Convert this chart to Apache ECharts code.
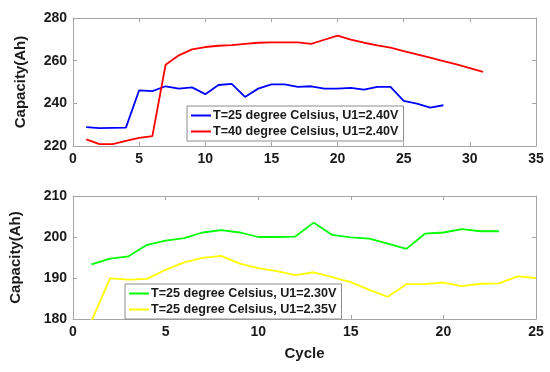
<!DOCTYPE html>
<html>
<head>
<meta charset="utf-8">
<script src="https://cdn.jsdelivr.net/npm/echarts@6/dist/echarts.min.js"></script>
<style>html,body{margin:0;padding:0;background:#fff;}#c{width:550px;height:372px;}</style>
</head>
<body>
<div id="c"></div>
<script>
// Top panel data (cycle 1..n)
const blue25_240 = [228.8,228.4,228.5,228.6,246.1,245.7,248.0,246.9,247.5,244.3,248.6,249.1,243.0,246.9,248.9,248.9,247.7,248.0,246.9,246.9,247.2,246.4,247.7,247.7,241.1,239.9,238.0,239.1];
const red40_240 = [223.1,220.9,220.9,222.4,223.8,224.6,258.1,262.5,265.3,266.4,267.0,267.3,267.9,268.4,268.6,268.6,268.6,267.9,269.8,271.7,269.9,268.4,267.2,266.1,264.5,262.9,261.4,259.8,258.3,256.5,254.7];
// Bottom panel data
const green25_230 = [193.3,194.7,195.3,198.1,199.1,199.7,201.1,201.7,201.1,200.0,200.0,200.1,203.5,200.5,199.9,199.6,198.4,197.1,200.8,201.1,201.9,201.4,201.4];
const yellow25_235 = [179.5,189.9,189.6,189.8,192.0,193.8,194.9,195.4,193.5,192.4,191.7,190.7,191.4,190.2,189.0,187.1,185.4,188.5,188.5,188.9,188.0,188.6,188.7,190.4,190.0];

const names = ['T=25 degree Celsius, U1=2.40V','T=40 degree Celsius, U1=2.40V','T=25 degree Celsius, U1=2.30V','T=25 degree Celsius, U1=2.35V'];
const topX = {min:0,max:35,interval:5};
const topY = {min:220,max:280,interval:20};
const botX = {min:0,max:25,interval:5};
const botY = {min:180,max:210,interval:10};

const toXY = arr => arr.map((v,i)=>[i+1,v]);
const FONT = '"Liberation Sans", Arial, sans-serif';
const axisCol = '#a6a6a6';

function xAx(gi, r, pos, labels, extra){
  return Object.assign({
    type:'value', gridIndex:gi, position:pos, min:r.min, max:r.max, interval:r.interval,
    axisLine:{show:true,onZero:false,lineStyle:{color:axisCol,width:1}},
    axisTick:{show:true,inside:true,length:4,lineStyle:{color:axisCol}},
    splitLine:{show:false},
    axisLabel:{show:labels,color:'#1a1a1a',fontFamily:FONT,fontWeight:'bold',fontSize:14,margin:6}
  }, extra||{});
}
function yAx(gi, r, pos, labels, extra){
  return Object.assign({
    type:'value', gridIndex:gi, position:pos, min:r.min, max:r.max, interval:r.interval,
    axisLine:{show:true,onZero:false,lineStyle:{color:axisCol,width:1}},
    axisTick:{show:true,inside:true,length:4,lineStyle:{color:axisCol}},
    splitLine:{show:false},
    axisLabel:{show:labels,color:'#1a1a1a',fontFamily:FONT,fontWeight:'bold',fontSize:14,margin:6}
  }, extra||{});
}
const nameStyle = {color:'#1a1a1a',fontFamily:FONT,fontWeight:'bold',fontSize:15};

const legendCommon = {
  orient:'vertical', backgroundColor:'#fff', borderColor:'#8c8c8c', borderWidth:1,
  padding:[3,5,3,4], itemGap:3, itemWidth:20, itemHeight:2, icon:'rect',
  textStyle:{color:'#1a1a1a',fontFamily:FONT,fontWeight:'bold',fontSize:12.6,padding:[0,0,0,-3]}
};

const option = {
  animation:false,
  backgroundColor:'#fff',
  grid:[
    {left:73, right:14, top:18, height:128},
    {left:72, right:14, top:196, height:123}
  ],
  xAxis:[
    xAx(0, topX, 'bottom', true),
    xAx(1, botX, 'bottom', true, {name:'Cycle', nameLocation:'middle', nameGap:27, nameTextStyle:nameStyle}),
    xAx(0, topX, 'top', false),
    xAx(1, botX, 'top', false)
  ],
  yAxis:[
    yAx(0, topY, 'left', true, {name:'Capacity(Ah)', nameLocation:'middle', nameGap:45, nameTextStyle:nameStyle}),
    yAx(1, botY, 'left', true, {name:'Capacity(Ah)', nameLocation:'middle', nameGap:50, nameTextStyle:nameStyle}),
    yAx(0, topY, 'right', false),
    yAx(1, botY, 'right', false)
  ],
  legend:[
    Object.assign({}, legendCommon, {left:187, top:106, data:[names[0],names[1]]}),
    Object.assign({}, legendCommon, {left:125, top:284, data:[names[2],names[3]]})
  ],
  series:[
    {name:names[0], type:'line', xAxisIndex:0, yAxisIndex:0, data:toXY(blue25_240), showSymbol:false, lineStyle:{color:'#0000ff',width:1.8}, itemStyle:{color:'#0000ff'}},
    {name:names[1], type:'line', xAxisIndex:0, yAxisIndex:0, data:toXY(red40_240), showSymbol:false, lineStyle:{color:'#ff0000',width:1.8}, itemStyle:{color:'#ff0000'}},
    {name:names[2], type:'line', xAxisIndex:1, yAxisIndex:1, data:toXY(green25_230), showSymbol:false, lineStyle:{color:'#00ff00',width:1.8}, itemStyle:{color:'#00ff00'}},
    {name:names[3], type:'line', xAxisIndex:1, yAxisIndex:1, data:toXY(yellow25_235), showSymbol:false, lineStyle:{color:'#ffff00',width:1.8}, itemStyle:{color:'#ffff00'}}
  ]
};
const chart = echarts.init(document.getElementById('c'), null, {renderer:'canvas'});
chart.setOption(option);
</script>
</body>
</html>
